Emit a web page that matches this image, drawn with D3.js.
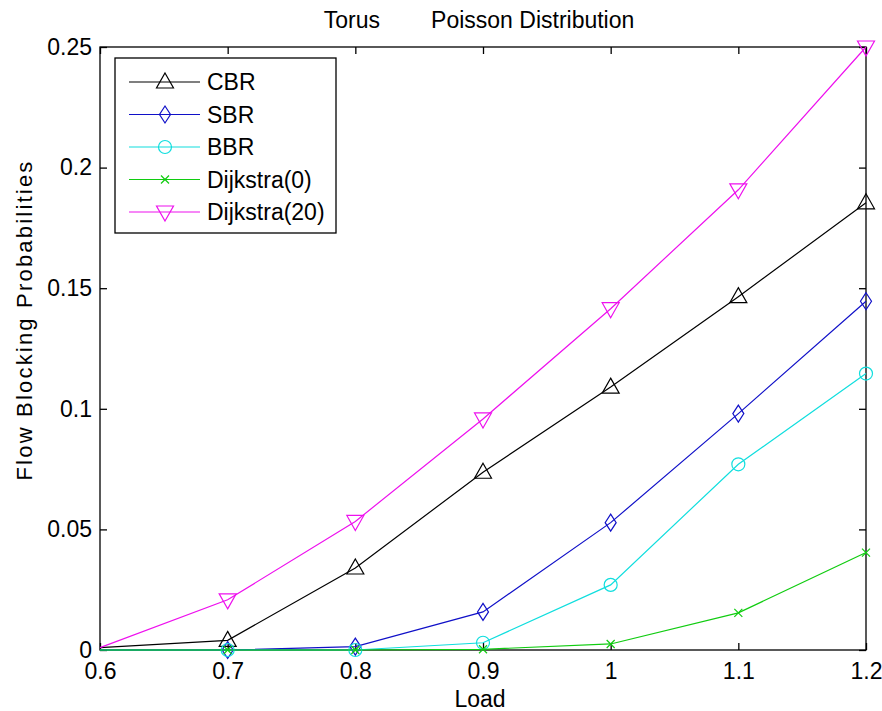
<!DOCTYPE html>
<html>
<head>
<meta charset="utf-8">
<script src="https://cdn.jsdelivr.net/npm/d3@7"></script>
<style>
  html, body { margin: 0; padding: 0; background: #fff; }
  svg { display: block; }
  text { font-family: "Liberation Sans", Arial, sans-serif; fill: #000; }
</style>
</head>
<body>
<svg id="chart" width="882" height="711"></svg>
<script>
// ---- data ----
const loads = [0.6, 0.7, 0.8, 0.9, 1.0, 1.1, 1.2];
const cbr = [0.001, 0.004, 0.034, 0.0737, 0.109, 0.1465, 0.1854];
const sbr = [0, 0, 0.0014, 0.0158, 0.0528, 0.098, 0.1446];
const bbr = [0, 0, 0, 0.003, 0.027, 0.077, 0.1146];
const dijkstra0 = [0, 0, 0, 0.0003, 0.0025, 0.0154, 0.0404];
const dijkstra20 = [0.001, 0.0208, 0.0533, 0.0958, 0.1415, 0.1908, 0.25];
const seriesNames = ["CBR", "SBR", "BBR", "Dijkstra(0)", "Dijkstra(20)"];
const xTicks = [0.6, 0.7, 0.8, 0.9, 1.0, 1.1, 1.2];
const yTicks = [0, 0.05, 0.1, 0.15, 0.2, 0.25];
const titleText = "Torus        Poisson Distribution";
const xLabel = "Load";
const yLabel = "Flow Blocking Probabilities";

// ---- styles ----
const colors = ["#000000", "#1010c8", "#10dede", "#10cc10", "#ee10ee"];
const markers = ["triUp", "diamond", "circle", "x", "triDown"];
const seriesValues = [cbr, sbr, bbr, dijkstra0, dijkstra20];
const FS = 23;

const L = 100, R = 866, T = 47, B = 650;
const svg = d3.select("#chart");
const x = d3.scaleLinear().domain([0.6, 1.2]).range([L, R]);
const y = d3.scaleLinear().domain([0, 0.25]).range([B, T]);

function markerPath(type) {
  switch (type) {
    case "triUp": return "M0,-9L8.5,6L-8.5,6Z";
    case "triDown": return "M0,9L8.5,-6L-8.5,-6Z";
    case "diamond": return "M0,-8.5L5.5,0L0,8.5L-5.5,0Z";
    case "circle": return "M6.5,0A6.5,6.5 0 1,1 -6.5,0A6.5,6.5 0 1,1 6.5,0Z";
    case "x": return "M-4,-4L4,4M-4,4L4,-4";
  }
}

// title
svg.append("text")
  .attr("x", (L + R) / 2 - 4).attr("y", 28)
  .attr("text-anchor", "middle")
  .attr("font-size", FS)
  .style("white-space", "pre")
  .attr("xml:space", "preserve")
  .text(titleText);

// axes box
const g = svg.append("g");
g.append("rect").attr("x", L).attr("y", T).attr("width", R - L).attr("height", B - T)
  .attr("fill", "none").attr("stroke", "#000").attr("stroke-width", 1.3);

const tickLen = 7;
const xAxisB = d3.axisBottom(x).tickValues(xTicks).tickSizeInner(-tickLen).tickSizeOuter(0)
  .tickPadding(13).tickFormat(d3.format("~g"));
const gxb = g.append("g").attr("transform", `translate(0,${B})`).call(xAxisB);
gxb.select(".domain").remove();
gxb.selectAll("line").attr("stroke", "#000").attr("stroke-width", 1.3);
gxb.selectAll("text").attr("font-size", FS).attr("font-family", "Liberation Sans, Arial, sans-serif").attr("fill", "#000");

const xAxisT = d3.axisTop(x).tickValues(xTicks).tickSizeInner(-tickLen).tickSizeOuter(0).tickFormat("");
const gxt = g.append("g").attr("transform", `translate(0,${T})`).call(xAxisT);
gxt.select(".domain").remove();
gxt.selectAll("line").attr("stroke", "#000").attr("stroke-width", 1.3);

const yAxisL = d3.axisLeft(y).tickValues(yTicks).tickSizeInner(-tickLen).tickSizeOuter(0)
  .tickPadding(8).tickFormat(d3.format("~g"));
const gyl = g.append("g").attr("transform", `translate(${L},0)`).call(yAxisL);
gyl.select(".domain").remove();
gyl.selectAll("line").attr("stroke", "#000").attr("stroke-width", 1.3);
gyl.selectAll("text").attr("font-size", FS).attr("font-family", "Liberation Sans, Arial, sans-serif").attr("fill", "#000");

const yAxisR = d3.axisRight(y).tickValues(yTicks).tickSizeInner(-tickLen).tickSizeOuter(0).tickFormat("");
const gyr = g.append("g").attr("transform", `translate(${R},0)`).call(yAxisR);
gyr.select(".domain").remove();
gyr.selectAll("line").attr("stroke", "#000").attr("stroke-width", 1.3);

// axis labels
svg.append("text").attr("x", 480).attr("y", 707).attr("text-anchor", "middle")
  .attr("font-size", FS).text(xLabel);
svg.append("text").attr("transform", "translate(32,320) rotate(-90)")
  .attr("text-anchor", "middle").attr("font-size", 22).attr("letter-spacing", 2.2)
  .text(yLabel);

// series (markers shown from the second load onward, as in the reference)
const line = d3.line().x((d, i) => x(loads[i])).y(d => y(d));
seriesValues.forEach((vals, s) => {
  const gs = svg.append("g");
  gs.append("path").attr("d", line(vals)).attr("fill", "none")
    .attr("stroke", colors[s]).attr("stroke-width", 1.2);
  gs.selectAll("path.m").data(vals.map((v, i) => ({ v, i })).filter(d => d.i > 0))
    .enter().append("path").attr("class", "m")
    .attr("d", markerPath(markers[s]))
    .attr("transform", d => `translate(${x(loads[d.i])},${y(d.v)})`)
    .attr("fill", "none").attr("stroke", colors[s]).attr("stroke-width", 1.2);
});

// legend
const leg = svg.append("g");
leg.append("rect").attr("x", 115).attr("y", 58).attr("width", 221).attr("height", 175)
  .attr("fill", "#fff").attr("stroke", "#000").attr("stroke-width", 1.3);
seriesNames.forEach((name, s) => {
  const cy = 82 + s * 32.5;
  leg.append("line").attr("x1", 129).attr("x2", 200).attr("y1", cy).attr("y2", cy)
    .attr("stroke", colors[s]).attr("stroke-width", 1.2);
  leg.append("path").attr("d", markerPath(markers[s]))
    .attr("transform", `translate(165,${cy})`)
    .attr("fill", "none").attr("stroke", colors[s]).attr("stroke-width", 1.2);
  leg.append("text").attr("x", 207).attr("y", cy).attr("dy", "0.36em")
    .attr("font-size", FS).text(name);
});
</script>
</body>
</html>
